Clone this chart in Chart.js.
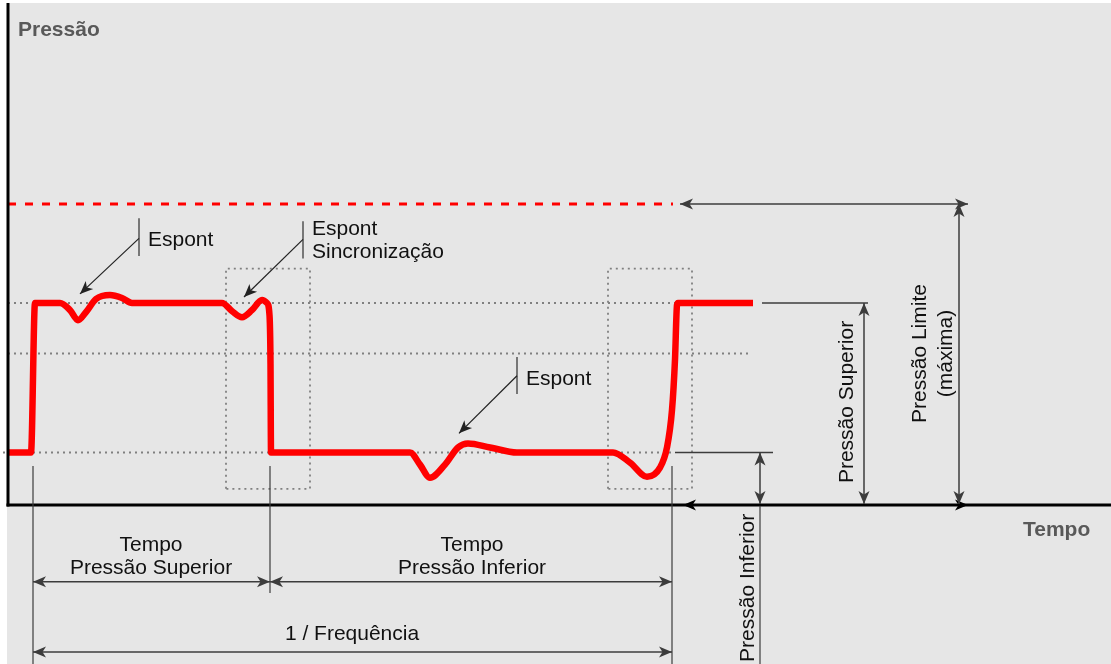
<!DOCTYPE html>
<html>
<head>
<meta charset="utf-8">
<script src="https://cdn.jsdelivr.net/npm/chart.js@4.4.1/dist/chart.umd.min.js"></script>
<style>
  html, body { margin: 0; padding: 0; background: #fff; }
  #wrap { width: 1111px; height: 664px; }
</style>
</head>
<body>
<div id="wrap"><canvas id="myChart" width="1111" height="664"></canvas></div>
<script>
'use strict';

/// DATA (tempo em unidades arbitrarias, pressao em unidades arbitrarias)
let pulseTime = [0, 2.3, 2.7, 5.2, 6.2, 7.0, 7.8, 8.8, 10.2, 11.4, 12.4, 21.4, 22.4, 23.4, 24.4, 25.4, 25.9, 26.15, 26.25, 26.3,
  40.2, 41.2, 42.2, 43.7, 45.0, 46.0, 48.2, 50.9, 60.5, 62.2, 63.9, 65.2, 65.9, 66.4, 66.7, 66.9, 67.0, 74.5];
let pulsePressure = [5.2, 5.2, 20, 20, 19.3, 18.3, 19.1, 20.4, 20.8, 20.5, 20, 20, 19.2, 18.6, 19.3, 20.3, 20.0, 18.8, 14, 5.2,
  5.2, 4.0, 2.7, 4.0, 5.7, 6.1, 5.7, 5.2, 5.2, 4.2, 2.8, 3.7, 5.7, 9.4, 14.4, 19.8, 20, 20];

let pressaoInferior = 5.2;
let pressaoMedia = 15;
let pressaoSuperior = 20;
let pressaoLimite = 29.8;

let inicioCiclo = 2.5;
let fimSuperior = 26.2;
let fimCiclo = 66.4;

// espont boxes [t0, t1]
let boxTimes = [[21.8, 30.2], [60.0, 68.4]];
let boxPressure = [1.6, 23.4];

// GLOBAL
let canvasElem = document.getElementById('myChart').getContext('2d');
let fontNormal = '21px "Liberation Sans", Arial, sans-serif';
let fontBold = 'bold 21px "Liberation Sans", Arial, sans-serif';
let lineGray = '#3c3c3c';
let dotGray = '#808080';

// HELPERS
function pts(xs, ys) {
  let out = [];
  for (let i = 0; i < xs.length; i++) {
    out.push({ x: xs[i], y: ys[i] });
  }
  return out;
}

function dottedSet(data, color, dash, width) {
  return {
    data: data,
    borderColor: color,
    borderWidth: width,
    borderDash: dash,
    pointRadius: 0,
    fill: false,
    tension: 0,
    order: 2,
  };
}

function boxData(t0, t1) {
  return [
    { x: t0, y: boxPressure[0] },
    { x: t0, y: boxPressure[1] },
    { x: t1, y: boxPressure[1] },
    { x: t1, y: boxPressure[0] },
    { x: t0, y: boxPressure[0] },
  ];
}

function arrowHead(ctx, x, y, angle, color) {
  ctx.save();
  ctx.translate(x, y);
  ctx.rotate(angle);
  ctx.beginPath();
  ctx.moveTo(0, 0);
  ctx.lineTo(-13, -5.5);
  ctx.lineTo(-9.5, 0);
  ctx.lineTo(-13, 5.5);
  ctx.closePath();
  ctx.fillStyle = color;
  ctx.fill();
  ctx.restore();
}

function arrow(ctx, x1, y1, x2, y2, both, color, width) {
  let ang = Math.atan2(y2 - y1, x2 - x1);
  ctx.strokeStyle = color;
  ctx.lineWidth = width;
  ctx.setLineDash([]);
  ctx.beginPath();
  ctx.moveTo(x1, y1);
  ctx.lineTo(x2, y2);
  ctx.stroke();
  arrowHead(ctx, x2, y2, ang, color);
  if (both) {
    arrowHead(ctx, x1, y1, ang + Math.PI, color);
  }
}

function line(ctx, x1, y1, x2, y2, color, width) {
  ctx.strokeStyle = color;
  ctx.lineWidth = width;
  ctx.setLineDash([]);
  ctx.beginPath();
  ctx.moveTo(x1, y1);
  ctx.lineTo(x2, y2);
  ctx.stroke();
}

function text(ctx, str, x, y, align, font, color, rotate) {
  ctx.save();
  ctx.font = font;
  ctx.fillStyle = color;
  ctx.textAlign = align;
  ctx.textBaseline = 'middle';
  ctx.translate(x, y);
  if (rotate) ctx.rotate(-Math.PI / 2);
  ctx.fillText(str, 0, 0);
  ctx.restore();
}

// background plugin
let bgPlugin = {
  id: 'bg',
  beforeDraw(chart) {
    let ctx = chart.ctx;
    let xs = chart.scales.x;
    let ys = chart.scales.y;
    let area = chart.chartArea;
    ctx.save();
    ctx.fillStyle = '#ffffff';
    ctx.fillRect(0, 0, chart.width, chart.height);
    ctx.fillStyle = '#e6e6e6';
    let left = xs.getPixelForValue(0) - 1;
    let top = ys.getPixelForValue(49.7);
    ctx.fillRect(left, top, area.right - left, area.bottom - top);
    ctx.restore();
  },
};

// axes + annotations
let notesPlugin = {
  id: 'notes',
  afterDatasetsDraw(chart) {
    let ctx = chart.ctx;
    let X = (v) => chart.scales.x.getPixelForValue(v);
    let Y = (v) => chart.scales.y.getPixelForValue(v);
    let bottom = chart.chartArea.bottom;
    let right = chart.chartArea.right;
    ctx.save();

    // axes
    line(ctx, X(0), Y(49.7), X(0), Y(0) + 1.5, '#000', 3);
    line(ctx, X(0) - 1.5, Y(0), right, Y(0), '#000', 3);

    // extension lines
    line(ctx, X(66.7), Y(pressaoInferior), X(76.5), Y(pressaoInferior), lineGray, 1.3);
    line(ctx, X(75.4), Y(pressaoSuperior), X(86.0), Y(pressaoSuperior), lineGray, 1.3);
    line(ctx, X(inicioCiclo), Y(3.86), X(inicioCiclo), bottom, lineGray, 1.2);
    line(ctx, X(fimSuperior), Y(3.86), X(fimSuperior), Y(-8.7), lineGray, 1.2);
    line(ctx, X(fimCiclo), Y(3.86), X(fimCiclo), bottom, lineGray, 1.2);
    line(ctx, X(75.2), Y(0), X(75.2), bottom, lineGray, 1.2);

    // dimension arrows
    arrow(ctx, X(67.2), Y(pressaoLimite), X(96.0), Y(pressaoLimite), true, lineGray, 1.5);
    arrow(ctx, X(67.5), Y(0), X(96.0), Y(0), true, '#000', 1.5);
    arrow(ctx, X(95.1), Y(pressaoLimite), X(95.1), Y(0) - 1, true, lineGray, 1.5);
    arrow(ctx, X(85.6), Y(pressaoSuperior), X(85.6), Y(0) - 1, true, lineGray, 1.5);
    arrow(ctx, X(75.2), Y(pressaoInferior), X(75.2), Y(0) - 1, true, lineGray, 1.5);
    arrow(ctx, X(inicioCiclo), Y(-7.6), X(fimSuperior), Y(-7.6), true, lineGray, 1.5);
    arrow(ctx, X(fimSuperior), Y(-7.6), X(fimCiclo), Y(-7.6), true, lineGray, 1.5);
    arrow(ctx, X(inicioCiclo), Y(-14.55), X(fimCiclo), Y(-14.55), true, lineGray, 1.5);

    // espont callouts
    line(ctx, X(13.1), Y(28.4), X(13.1), Y(24.65), lineGray, 1.3);
    arrow(ctx, X(13.1), Y(26.4), X(7.2), Y(20.9), false, '#222', 1.2);
    text(ctx, 'Espont', X(14.0), Y(26.2), 'left', fontNormal, '#111');

    line(ctx, X(29.5), Y(28.1), X(29.5), Y(24.4), lineGray, 1.3);
    arrow(ctx, X(29.5), Y(26.3), X(23.6), Y(20.6), false, '#222', 1.2);
    text(ctx, 'Espont', X(30.4), Y(27.3), 'left', fontNormal, '#111');
    text(ctx, 'Sincronização', X(30.4), Y(25.05), 'left', fontNormal, '#111');

    line(ctx, X(50.9), Y(14.65), X(50.9), Y(11.0), lineGray, 1.3);
    arrow(ctx, X(50.9), Y(12.8), X(45.1), Y(7.1), false, '#222', 1.2);
    text(ctx, 'Espont', X(51.8), Y(12.5), 'left', fontNormal, '#111');

    // axis titles
    text(ctx, 'Pressão', X(1.0), Y(47.0), 'left', fontBold, '#595959');
    text(ctx, 'Tempo', X(101.5), Y(-2.5), 'left', fontBold, '#595959');

    // dimension labels
    text(ctx, 'Tempo', X(14.3), Y(-3.96), 'center', fontNormal, '#111');
    text(ctx, 'Pressão Superior', X(14.3), Y(-6.24), 'center', fontNormal, '#111');
    text(ctx, 'Tempo', X(46.4), Y(-3.96), 'center', fontNormal, '#111');
    text(ctx, 'Pressão Inferior', X(46.4), Y(-6.24), 'center', fontNormal, '#111');
    text(ctx, '1 / Frequência', X(34.4), Y(-12.77), 'center', fontNormal, '#111');

    text(ctx, 'Pressão Inferior', X(74.0), Y(-8.2), 'center', fontNormal, '#111', true);
    text(ctx, 'Pressão Superior', X(83.9), Y(10.2), 'center', fontNormal, '#111', true);
    text(ctx, 'Pressão Limite', X(91.2), Y(15.0), 'center', fontNormal, '#111', true);
    text(ctx, '(máxima)', X(93.8), Y(15.0), 'center', fontNormal, '#111', true);

    ctx.restore();
  },
};

// CHART
let datasets = [
  {
    data: pts(pulseTime, pulsePressure),
    borderColor: '#ff0000',
    borderWidth: 6.5,
    pointRadius: 0,
    fill: false,
    cubicInterpolationMode: 'monotone',
    borderCapStyle: 'butt',
    borderJoinStyle: 'round',
    order: 0,
  },
  dottedSet([{ x: 0, y: pressaoLimite }, { x: 66.5, y: pressaoLimite }], '#ff0000', [8, 9], 3),
  dottedSet([{ x: 0, y: pressaoSuperior }, { x: 74.4, y: pressaoSuperior }], dotGray, [2, 4], 1.8),
  dottedSet([{ x: 0, y: pressaoMedia }, { x: 74.2, y: pressaoMedia }], dotGray, [2, 4], 1.8),
  dottedSet([{ x: -0.5, y: pressaoInferior }, { x: 66.7, y: pressaoInferior }], dotGray, [2, 4], 1.8),
  dottedSet(boxData(boxTimes[0][0], boxTimes[0][1]), dotGray, [2, 4], 1.8),
  dottedSet(boxData(boxTimes[1][0], boxTimes[1][1]), dotGray, [2, 4], 1.8),
];

let myChartObj = {
  type: 'line',
  data: { datasets: datasets },
  options: {
    responsive: false,
    animation: false,
    devicePixelRatio: 1,
    layout: { padding: 0 },
    plugins: {
      legend: { display: false },
      tooltip: { enabled: false },
    },
    scales: {
      x: { type: 'linear', min: -0.8, max: 110.3, display: false },
      y: { type: 'linear', min: -15.74, max: 50, display: false },
    },
  },
  plugins: [bgPlugin, notesPlugin],
};

new Chart(canvasElem, myChartObj);
</script>
</body>
</html>
